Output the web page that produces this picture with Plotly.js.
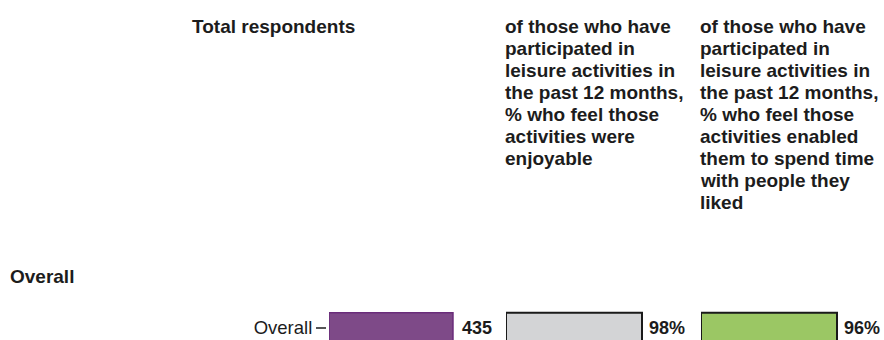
<!DOCTYPE html>
<html>
<head>
<meta charset="utf-8">
<script src="https://cdn.plot.ly/plotly-3.0.1.min.js"></script>
<style>
  html, body { margin: 0; padding: 0; overflow: hidden; background: #fff; }
  #chart { width: 884px; height: 360px; }
</style>
</head>
<body>
<div id="chart"></div>
<script>
// ---- data ----
const categories = ['Overall'];
const groupHeading = 'Overall';
const respondents = [435];
const enjoyable = [98];
const spendTime = [96];
const respondentsLabels = ['435'];
const enjoyableLabels = ['98%'];
const spendTimeLabels = ['96%'];
const header1Lines = ['Total respondents'];
const header2Lines = ['of those who have', 'participated in', 'leisure activities in',
  'the past 12 months,', '% who feel those', 'activities were', 'enjoyable'];
const header3Lines = ['of those who have', 'participated in', 'leisure activities in',
  'the past 12 months,', '% who feel those', 'activities enabled',
  'them to spend time', 'with people they', 'liked'];

// ---- layout helpers ----
const W = 884, H = 360, MT = 309, MB = 13;
const plotH = H - MT - MB;
const px = v => v / W;
const py = v => (H - MB - v) / plotH;
const FONT = '"Liberation Sans", Arial, sans-serif';
const FS = 18;
const HFS = 19;
const TXT = '#1C1C1C';

const traces = [
  { x: respondents, y: categories, xaxis: 'x', yaxis: 'y', type: 'bar', orientation: 'h', width: 0.8,
    marker: { color: '#7E4A88', line: { color: '#6A2C7A', width: 1.5 } }, hoverinfo: 'none' },
  { x: enjoyable, y: categories, xaxis: 'x2', yaxis: 'y', type: 'bar', orientation: 'h', width: 0.8,
    marker: { color: '#D3D4D6', line: { color: '#1A1A1A', width: 2 } }, hoverinfo: 'none' },
  { x: spendTime, y: categories, xaxis: 'x3', yaxis: 'y', type: 'bar', orientation: 'h', width: 0.8,
    marker: { color: '#9BC764', line: { color: '#1A1A1A', width: 2 } }, hoverinfo: 'none' }
];

const annotations = [];
function valueLabels(vals, labels, xref, shift) {
  vals.forEach((v, i) => annotations.push({
    x: v, y: categories[i], xref: xref, yref: 'y', xanchor: 'left', yanchor: 'middle',
    xshift: shift, text: labels[i], showarrow: false,
    font: { family: FONT, size: FS, color: TXT, weight: 'bold' }
  }));
}
valueLabels(respondents, respondentsLabels, 'x', 7);
valueLabels(enjoyable, enjoyableLabels, 'x2', 5);
valueLabels(spendTime, spendTimeLabels, 'x3', 5);

function headerLines(lines, left) {
  lines.forEach((t, i) => annotations.push({
    x: px(left), y: py(26.5 + 22 * i), xref: 'paper', yref: 'paper',
    xanchor: 'left', yanchor: 'middle', text: t, showarrow: false,
    font: { family: FONT, size: HFS, color: TXT, weight: 'bold' }
  }));
}
headerLines(header1Lines, 190);
headerLines(header2Lines, 503);
headerLines(header3Lines, 698);

annotations.push({
  x: px(8), y: py(276.5), xref: 'paper', yref: 'paper', xanchor: 'left', yanchor: 'middle',
  text: groupHeading, showarrow: false,
  font: { family: FONT, size: HFS, color: TXT, weight: 'bold' }
});

const hiddenX = { showgrid: false, zeroline: false, showline: false, showticklabels: false, ticks: '', fixedrange: true };

const layout = {
  width: W, height: H,
  margin: { l: 0, r: 0, t: MT, b: MB, pad: 0 },
  paper_bgcolor: '#fff', plot_bgcolor: '#fff',
  showlegend: false,
  font: { family: FONT, size: FS, color: TXT },
  xaxis: Object.assign({ domain: [px(329), px(329 + 165.3)], range: [0, 580], anchor: 'y' }, hiddenX),
  xaxis2: Object.assign({ domain: [px(506), px(506 + 180.4)], range: [0, 130], anchor: 'y' }, hiddenX),
  xaxis3: Object.assign({ domain: [px(701), px(701 + 177.1)], range: [0, 125], anchor: 'y' }, hiddenX),
  yaxis: {
    type: 'category', categoryarray: categories, range: [-0.5, 0.5],
    anchor: 'free', position: px(326), side: 'left',
    showgrid: false, zeroline: false, showline: false,
    ticks: 'outside', ticklen: 10, tickwidth: 2, tickcolor: '#555',
    tickfont: { family: FONT, size: 18.5, color: TXT }, fixedrange: true
  },
  annotations: annotations
};

Plotly.newPlot('chart', traces, layout, { displayModeBar: false, staticPlot: true });
</script>
</body>
</html>
